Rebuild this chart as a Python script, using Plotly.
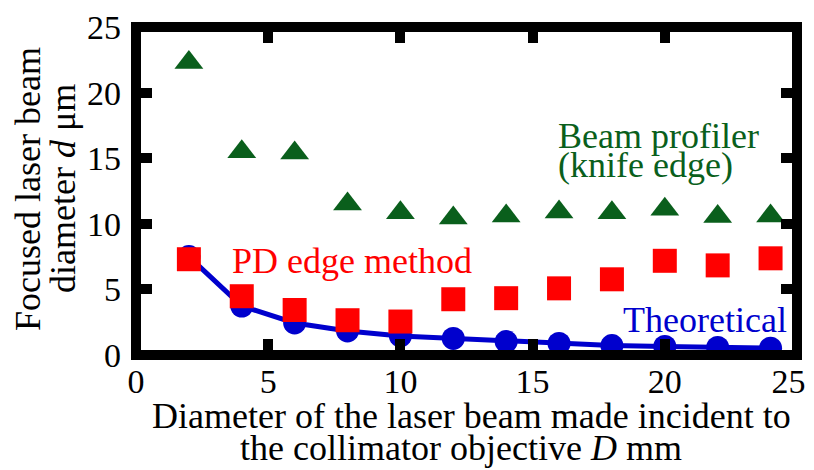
import plotly.graph_objects as go

# ---- data ----
D_mm = [2, 4, 6, 8, 10, 12, 14, 16, 18, 20, 22, 24]
beam_profiler = [22.3, 15.5, 15.4, 11.5, 10.85, 10.45, 10.6, 10.9, 10.85, 11.1, 10.55, 10.6]
pd_edge = [7.3, 4.48, 3.43, 2.65, 2.55, 4.25, 4.33, 5.08, 5.77, 7.18, 6.83, 7.37]
theoretical = [7.5, 3.73, 2.44, 1.83, 1.45, 1.26, 1.02, 0.88, 0.72, 0.65, 0.58, 0.52]
tick_vals = [0, 5, 10, 15, 20, 25]
x_tick_text = ["0", "5", "10", "15", "20", "25\u2002"]
y_tick_text = ["0", "5", "10", "15", "20", "25"]

W, H = 814, 470
OFF = 8  # page body margin offset of the figure in the browser
# desired plot-area edges in page pixels
PL, PR, PT, PB = 136, 797, 27, 355
ML, MR, MT, MB = PL - OFF, W - (PR - OFF), PT - OFF, H - (PB - OFF)
PW, PH = W - ML - MR, H - MT - MB


def px(x):
    return (x - OFF - ML) / PW


def py(y):
    return (H - MB - (y - OFF)) / PH


FONT = "Liberation Serif"
GREEN = "#0a5f1c"
RED = "#ff0000"
BLUE = "#0000cd"

fig = go.Figure()
fig.add_trace(go.Scatter(x=D_mm, y=beam_profiler, mode="markers",
                         marker=dict(symbol="triangle-up", size=25, color=GREEN),
                         cliponaxis=False, showlegend=False))
fig.add_trace(go.Scatter(x=D_mm, y=theoretical, mode="lines+markers",
                         line=dict(color=BLUE, width=5),
                         marker=dict(symbol="circle", size=23, color=BLUE),
                         cliponaxis=False, showlegend=False))
fig.add_trace(go.Scatter(x=D_mm, y=pd_edge, mode="markers",
                         marker=dict(symbol="square", size=24, color=RED),
                         cliponaxis=False, showlegend=False))

axis_common = dict(range=[0, 25], tickvals=tick_vals, ticks="inside", ticklen=16,
                   tickwidth=10, tickcolor="black", showgrid=False, zeroline=False,
                   showline=False, mirror="ticks", automargin=False,
                   ticklabeloverflow="allow",
                   tickfont=dict(family=FONT, size=34, color="black"))
fig.update_xaxes(**axis_common, ticktext=x_tick_text, ticklabelstandoff=3)
fig.update_yaxes(**axis_common, ticktext=y_tick_text, ticklabelstandoff=14)

fig.add_shape(type="rect", xref="paper", yref="paper", x0=0, x1=1, y0=0, y1=1,
              line=dict(color="black", width=10), layer="above")

ann = []
ann.append(dict(x=15.9, y=16.72, xref="x", yref="y", text="Beam profiler",
                xanchor="left", yanchor="middle", showarrow=False,
                font=dict(family=FONT, size=36, color=GREEN)))
ann.append(dict(x=15.9, y=14.5, xref="x", yref="y", text="(knife edge)",
                xanchor="left", yanchor="middle", showarrow=False,
                font=dict(family=FONT, size=36, color=GREEN)))
ann.append(dict(x=3.56, y=7.2, xref="x", yref="y", text="PD edge method",
                xanchor="left", yanchor="middle", showarrow=False,
                font=dict(family=FONT, size=36, color=RED)))
ann.append(dict(x=18.33, y=2.7, xref="x", yref="y", text="Theoretical",
                xanchor="left", yanchor="middle", showarrow=False,
                font=dict(family=FONT, size=36, color=BLUE)))
# axis titles (positions in page pixels)
ann.append(dict(x=px(471.5), y=py(416), xref="paper", yref="paper",
                text="Diameter of the laser beam made incident to",
                xanchor="center", yanchor="middle", showarrow=False,
                font=dict(family=FONT, size=36, color="black")))
ann.append(dict(x=px(461), y=py(448), xref="paper", yref="paper",
                text="the collimator objective <i>D</i> mm",
                xanchor="center", yanchor="middle", showarrow=False,
                font=dict(family=FONT, size=36, color="black")))
ann.append(dict(x=px(28), y=py(189), xref="paper", yref="paper",
                text="Focused laser beam", textangle=-90,
                xanchor="center", yanchor="middle", showarrow=False,
                font=dict(family=FONT, size=36, color="black")))
ann.append(dict(x=px(63), y=py(189), xref="paper", yref="paper",
                text="diameter <i>d</i> μm", textangle=-90,
                xanchor="center", yanchor="middle", showarrow=False,
                font=dict(family=FONT, size=36, color="black")))

fig.update_layout(width=W, height=H, margin=dict(l=ML, r=MR, t=MT, b=MB),
                  plot_bgcolor="white", paper_bgcolor="white",
                  annotations=ann, font=dict(family=FONT))

fig.write_html("out.html")
